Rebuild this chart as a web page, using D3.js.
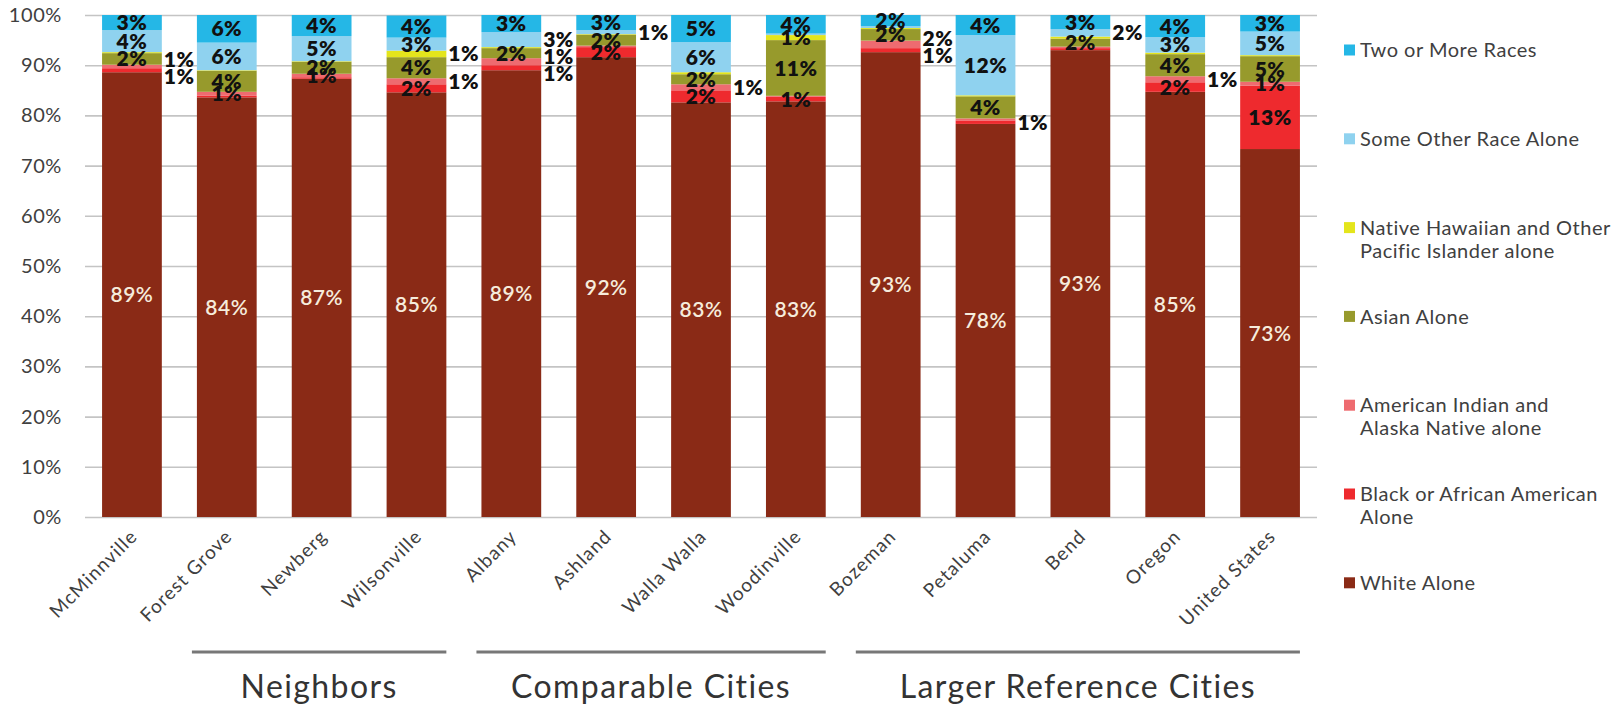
<!DOCTYPE html>
<html>
<head>
<meta charset="utf-8">
<script src="https://cdn.jsdelivr.net/npm/d3@7"></script>
<style>
  body { margin: 0; background: #fff; }
  text { font-family: Lato, "Open Sans", sans-serif; }
</style>
</head>
<body>
<div id="chart"></div>
<script>
// categories and series (percent of population)
var cities = ["McMinnville", "Forest Grove", "Newberg", "Wilsonville", "Albany", "Ashland",
  "Walla Walla", "Woodinville", "Bozeman", "Petaluma", "Bend", "Oregon", "United States"];

var whiteAlone = [88.6, 83.6, 87.3, 84.6, 89.0, 91.6, 82.6, 82.8, 92.6, 78.3, 93.0, 84.7, 73.3];
var blackAlone = [0.8, 0.3, 0.3, 1.6, 1.0, 2.0, 2.4, 0.9, 0.8, 0.7, 0.4, 1.9, 12.6];
var indianAlaska = [0.7, 0.8, 0.7, 1.2, 1.4, 0.3, 1.2, 0.2, 1.5, 0.4, 0.3, 1.2, 0.8];
var asianAlone = [2.3, 4.2, 2.4, 4.2, 2.0, 2.2, 2.0, 11.1, 2.3, 4.4, 1.6, 4.4, 5.1];
var hawaiianPacific = [0.2, 0.1, 0.1, 1.3, 0.2, 0.1, 0.4, 1.0, 0.2, 0.2, 0.4, 0.3, 0.2];
var otherRace = [4.4, 5.5, 5.0, 2.6, 3.0, 0.8, 6.0, 0.3, 0.4, 12.0, 1.5, 3.1, 4.7];
var twoOrMore = [3.0, 5.5, 4.2, 4.4, 3.4, 3.0, 5.4, 3.7, 2.2, 4.0, 2.8, 4.4, 3.3];

var seriesKeys = ["white", "black", "aian", "asian", "nhpi", "other", "two"];
var seriesNames = ["White Alone", "Black or African American Alone", "American Indian and Alaska Native alone",
  "Asian Alone", "Native Hawaiian and Other Pacific Islander alone", "Some Other Race Alone", "Two or More Races"];
var seriesColors = ["#8a2a16", "#ee2a2e", "#ee6b70", "#979a2c", "#e4e51c", "#8fd2ef", "#25b7e6"];

var yTicks = [0, 10, 20, 30, 40, 50, 60, 70, 80, 90, 100];

var groupNames = ["Neighbors", "Comparable Cities", "Larger Reference Cities"];
var groupFirst = ["Forest Grove", "Albany", "Bozeman"];
var groupLast = ["Wilsonville", "Woodinville", "United States"];

// labels that sit beside the bar instead of inside it
var outsideLabels = ["McMinnville|black", "McMinnville|aian", "Wilsonville|nhpi", "Wilsonville|aian",
  "Albany|other", "Albany|aian", "Albany|black", "Ashland|other", "Walla Walla|aian",
  "Bozeman|aian", "Bozeman|black", "Petaluma|black", "Bend|other", "Oregon|aian"];

var width = 1616, height = 706;

var rows = cities.map(function (c, i) {
  return { city: c, white: whiteAlone[i], black: blackAlone[i], aian: indianAlaska[i], asian: asianAlone[i],
    nhpi: hawaiianPacific[i], other: otherRace[i], two: twoOrMore[i] };
});

var svg = d3.select("#chart").append("svg")
  .attr("width", width)
  .attr("height", height);

var x = d3.scaleBand()
  .domain(cities)
  .range([85, 1317])
  .paddingInner(0.37)
  .paddingOuter(0.18);

var y = d3.scaleLinear()
  .domain([0, 100])
  .range([517, 15]);

// gridlines + y labels
var yAxis = d3.axisLeft(y)
  .tickValues(yTicks)
  .tickSize(-(1317 - 85))
  .tickPadding(23)
  .tickFormat(function (d) { return d + "%"; });

var gy = svg.append("g")
  .attr("transform", "translate(85,0)")
  .call(yAxis);
gy.select(".domain").remove();
gy.selectAll(".tick line").attr("stroke", "#c4c4c4").attr("stroke-width", 1.6);
gy.selectAll(".tick text")
  .attr("fill", "#404040")
  .style("font-size", "20px")
  .style("letter-spacing", "0.6px")
  .style("font-family", "Lato, sans-serif");

var stack = d3.stack().keys(seriesKeys);
var stacked = stack(rows);

svg.append("g").selectAll("g")
  .data(stacked)
  .join("g")
  .attr("fill", function (d, i) { return seriesColors[i]; })
  .selectAll("rect")
  .data(function (d) { return d; })
  .join("rect")
  .attr("x", function (d) { return x(d.data.city); })
  .attr("y", function (d) { return y(d[1]); })
  .attr("width", x.bandwidth())
  .attr("height", function (d) { return y(d[0]) - y(d[1]); });

// data labels
var inside = [], beside = {};
stacked.forEach(function (layer, si) {
  layer.forEach(function (d) {
    var v = d[1] - d[0];
    var r = Math.round(v);
    if (r < 1) return;
    var key = d.data.city + "|" + layer.key;
    var lab = { city: d.data.city, text: r + "%", cy: y((d[0] + d[1]) / 2), white: si === 0 };
    if (outsideLabels.indexOf(key) >= 0) {
      (beside[d.data.city] = beside[d.data.city] || []).push(lab);
    } else {
      inside.push(lab);
    }
  });
});

// spread the side labels so they don't overlap
var sideLabs = [];
Object.keys(beside).forEach(function (c) {
  var list = beside[c].sort(function (a, b) { return a.cy - b.cy; });
  var gap = 17;
  for (var k = 0; k < 20; k++) {
    for (var j = 1; j < list.length; j++) {
      var diff = list[j].cy - list[j - 1].cy;
      if (diff < gap) {
        var push = (gap - diff) / 2;
        list[j].cy += push;
        list[j - 1].cy -= push;
      }
    }
  }
  sideLabs = sideLabs.concat(list);
});

svg.append("g").selectAll("text")
  .data(inside)
  .join("text")
  .attr("x", function (d) { return x(d.city) + x.bandwidth() / 2; })
  .attr("y", function (d) { return d.cy; })
  .attr("dy", "0.36em")
  .attr("text-anchor", "middle")
  .attr("fill", function (d) { return d.white ? "#f6ecdc" : "#111"; })
  .style("font-size", "21px")
  .style("letter-spacing", "0.5px")
  .style("font-weight", function (d) { return d.white ? 600 : 800; })
  .text(function (d) { return d.text; });

svg.append("g").selectAll("text")
  .data(sideLabs)
  .join("text")
  .attr("x", function (d) { return x(d.city) + x.bandwidth() + 2; })
  .attr("y", function (d) { return d.cy; })
  .attr("dy", "0.36em")
  .attr("text-anchor", "start")
  .attr("fill", "#111")
  .style("font-size", "21px")
  .style("letter-spacing", "0.5px")
  .style("font-weight", 800)
  .text(function (d) { return d.text; });

// x labels, rotated
svg.append("g").selectAll("text")
  .data(cities)
  .join("text")
  .attr("transform", function (d) {
    return "translate(" + (x(d) + x.bandwidth() / 2 + 2) + ",533) rotate(-45)";
  })
  .attr("text-anchor", "end")
  .attr("dy", "0.35em")
  .attr("fill", "#404040")
  .style("font-size", "19px")
  .style("letter-spacing", "1.1px")
  .text(function (d) { return d; });

// group brackets
groupNames.forEach(function (g, i) {
  var x0 = x(groupFirst[i]) - 5;
  var x1 = x(groupLast[i]) + x.bandwidth();
  svg.append("line")
    .attr("x1", x0).attr("x2", x1)
    .attr("y1", 652).attr("y2", 652)
    .attr("stroke", "#777")
    .attr("stroke-width", 3);
  svg.append("text")
    .attr("x", (x0 + x1) / 2)
    .attr("y", 698)
    .attr("text-anchor", "middle")
    .attr("fill", "#333")
    .style("font-size", "32px")
    .style("letter-spacing", "1.4px")
    .text(g);
});

// legend (reverse order)
var legendLines = [
  ["White Alone"],
  ["Black or African American", "Alone"],
  ["American Indian and", "Alaska Native alone"],
  ["Asian Alone"],
  ["Native Hawaiian and Other", "Pacific Islander alone"],
  ["Some Other Race Alone"],
  ["Two or More Races"]
];
var legend = svg.append("g");
seriesKeys.slice().reverse().forEach(function (k, i) {
  var si = seriesKeys.length - 1 - i;
  var cy = 50 + i * 88.8;
  legend.append("rect")
    .attr("x", 1344).attr("y", cy - 5.5)
    .attr("width", 11).attr("height", 11)
    .attr("fill", seriesColors[si]);
  var t = legend.append("text")
    .attr("x", 1360).attr("y", cy)
    .attr("fill", "#404040")
    .style("font-size", "20px")
    .style("letter-spacing", "0.5px");
  legendLines[si].forEach(function (line, li) {
    t.append("tspan")
      .attr("x", 1360)
      .attr("dy", li === 0 ? "0.36em" : "23px")
      .text(line);
  });
});
</script>
</body>
</html>
